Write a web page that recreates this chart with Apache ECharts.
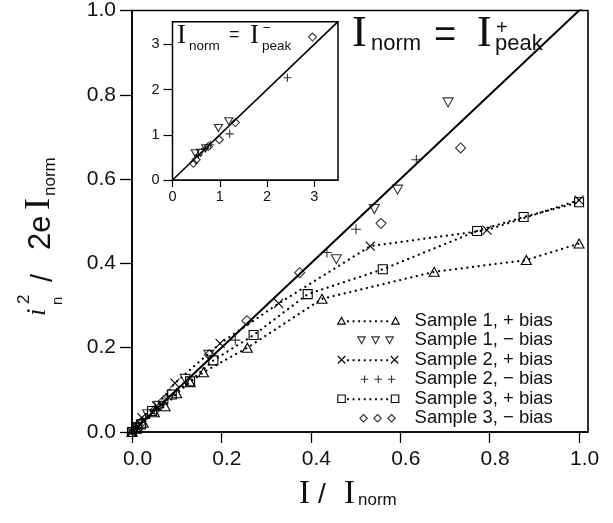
<!DOCTYPE html>
<html><head><meta charset="utf-8">
<script src="https://cdn.jsdelivr.net/npm/echarts@6/dist/echarts.min.js"></script>
<style>html,body{margin:0;padding:0;background:#fff}#c{width:613px;height:523px}</style>
</head><body><div id="c"></div>
<script>
// ---------- data ----------
const xTickValues = [0, 0.2, 0.4, 0.6, 0.8, 1.0];
const yTickValues = [0, 0.2, 0.4, 0.6, 0.8, 1.0];
const insetTickValues = [0, 1, 2, 3];
const legendNames = ['Sample 1, + bias', 'Sample 1, \u2212 bias', 'Sample 2, + bias', 'Sample 2, \u2212 bias', 'Sample 3, + bias', 'Sample 3, \u2212 bias'];
const diagonal = [[0, 0], [1.05, 1.05]];
const s1Plus = [[0,0],[0.01,0.008],[0.025,0.022],[0.05,0.047],[0.074,0.061],[0.1,0.092],[0.13,0.118],[0.16,0.142],[0.258,0.2],[0.425,0.316],[0.676,0.38],[0.882,0.408],[1.0,0.447]];
const s1Minus = [[0.01,0.012],[0.035,0.042],[0.06,0.062],[0.119,0.126],[0.172,0.183],[0.457,0.41],[0.542,0.529],[0.594,0.575],[0.707,0.782]];
const s2Plus = [[0,0],[0.01,0.013],[0.022,0.034],[0.055,0.062],[0.096,0.116],[0.197,0.21],[0.328,0.305],[0.533,0.441],[0.794,0.479],[1.0,0.55]];
const s2Minus = [[0.005,0.006],[0.03,0.032],[0.08,0.086],[0.231,0.218],[0.436,0.426],[0.501,0.481],[0.636,0.646]];
const s3Plus = [[0,0],[0.012,0.01],[0.02,0.018],[0.045,0.05],[0.089,0.089],[0.13,0.12],[0.182,0.17],[0.272,0.23],[0.393,0.327],[0.561,0.386],[0.772,0.477],[0.876,0.51],[1.0,0.545]];
const s3Minus = [[0.003,0.002],[0.018,0.02],[0.052,0.053],[0.07,0.073],[0.173,0.183],[0.257,0.264],[0.375,0.378],[0.557,0.495],[0.735,0.674]];
const insetDiagonal = [[0, 0], [3.5, 3.5]];
const insetDiamond = [[0.44,0.37],[0.5,0.45],[0.76,0.74],[0.99,0.89],[1.33,1.27],[2.96,3.16]];
const insetTriDown = [[0.48,0.59],[0.59,0.6],[0.7,0.7],[0.97,1.15],[1.19,1.3]];
const insetPlus = [[0.55,0.55],[0.69,0.7],[0.8,0.78],[1.21,1.02],[2.43,2.26]];

// ---------- symbols ----------
const TRI_DOWN = 'path://M0,0L10,0L5,9Z';
const PLUS = 'path://M5,0L5,10M0,5L10,5';
const CROSS = 'path://M0,0L10,10M10,0L0,10';
const DIAMOND = 'path://M5,0L10,5L5,10L0,5Z';

function triU(cx,cy,s){const h=s*0.9;return `M${cx-s/2},${cy+h/2}L${cx},${cy-h/2}L${cx+s/2},${cy+h/2}Z`;}
function triD(cx,cy,s){const h=s*0.9;return `M${cx-s/2},${cy-h/2}L${cx+s/2},${cy-h/2}L${cx},${cy+h/2}Z`;}
function sq(cx,cy,s){return `M${cx-s/2},${cy-s/2}L${cx+s/2},${cy-s/2}L${cx+s/2},${cy+s/2}L${cx-s/2},${cy+s/2}Z`;}
function dia(cx,cy,s){return `M${cx},${cy-s/2}L${cx+s/2},${cy}L${cx},${cy+s/2}L${cx-s/2},${cy}Z`;}
function pl(cx,cy,s){return `M${cx-s/2},${cy}L${cx+s/2},${cy}M${cx},${cy-s/2}L${cx},${cy+s/2}`;}
function cr(cx,cy,s){return `M${cx-s/2},${cy-s/2}L${cx+s/2},${cy+s/2}M${cx+s/2},${cy-s/2}L${cx-s/2},${cy+s/2}`;}
function dts(x0,x1,step,cy){let p='';for(let x=x0;x<=x1+0.01;x+=step){p+=`M${x},${cy-0.5}L${x+0.8},${cy-0.5}L${x+0.8},${cy+0.5}L${x},${cy+0.5}Z`;}return p;}
const BOX = 'M0,0L0,0M72,10L72,10';
const LS = 7.5;
const legendIcons = [
  'path://' + BOX + triU(4,5,LS) + dts(10,51,5.6,5.5) + triU(58,5,LS),
  'path://' + BOX + triD(24,5,LS) + triD(38,5,LS) + triD(52,5,LS),
  'path://' + BOX + cr(4,5,LS) + dts(10,51,5.6,5.5) + cr(57,5,LS),
  'path://' + BOX + pl(27,5,LS) + pl(40.7,5,LS) + pl(54,5,LS),
  'path://' + BOX + sq(4,5,LS) + dts(10,51,5.6,5.5) + sq(57.5,5,LS),
  'path://' + BOX + dia(26,5,LS) + dia(40,5,LS) + dia(54,5,LS)
];

const SANS = '"Liberation Sans", Arial, sans-serif';
const SERIF = '"Liberation Serif", "Times New Roman", serif';
const hollow = {color: 'rgba(0,0,0,0)', borderColor: '#000', borderWidth: 1.1};
const dotted = {color: '#000', width: 2.2, type: [0.1, 5.6], cap: 'round'};

function lineSeries(name, data, symbol, size){
  return {name, type: 'line', data, symbol, symbolSize: size, showSymbol: true, itemStyle: hollow, lineStyle: dotted, z: 3, animation: false, emphasis: {disabled: true}};
}
function scatterSeries(name, data, symbol, size, xi){
  return {name, type: 'scatter', data, symbol, symbolSize: size, itemStyle: hollow, xAxisIndex: xi||0, yAxisIndex: xi||0, z: 4, animation: false, emphasis: {disabled: true}};
}

// text helper: place text with given alphabetic baseline
function T(text, x, base, size, family){
  return {type: 'text', silent: true, z: 100, x: x, y: base - 0.345*size,
    style: {text, font: `${size}px ${family}`, fill: '#111', align: 'left', verticalAlign: 'middle'}};
}
function TI(text, x, base, size, family){ // italic
  return {type: 'text', silent: true, z: 100, x: x, y: base - 0.345*size,
    style: {text, font: `italic ${size}px ${family}`, fill: '#111', align: 'left', verticalAlign: 'middle'}};
}

const chart = echarts.init(document.getElementById('c'), null, {renderer: 'canvas'});
const option = {
  backgroundColor: '#fff',
  animation: false,
  grid: [
    {left: 132, top: 9, width: 456, height: 423, show: true, borderColor: '#000', borderWidth: 1.6, backgroundColor: 'rgba(0,0,0,0)'},
    {left: 172.5, top: 21.7, width: 165.5, height: 158.3, show: true, borderColor: '#000', borderWidth: 1.5, backgroundColor: '#fff', z: 1}
  ],
  xAxis: [
    {type: 'value', gridIndex: 0, min: 0, max: 1.02, interval: 0.2,
     axisLine: {show: true, onZero: false, lineStyle: {color: '#000', width: 1.6}},
     axisTick: {show: true, length: 11, lineStyle: {color: '#000', width: 1.3}, customValues: xTickValues},
     axisLabel: {color: '#111', fontSize: 21, fontFamily: SANS, margin: 17, padding: [0,0,0,11], customValues: xTickValues, formatter: v => v.toFixed(1)},
     splitLine: {show: false}},
    {type: 'value', gridIndex: 1, min: 0, max: 3.5, interval: 1,
     axisLine: {show: true, onZero: false, lineStyle: {color: '#000', width: 1.5}},
     axisTick: {show: true, length: 7, lineStyle: {color: '#000', width: 1.2}, customValues: insetTickValues},
     axisLabel: {color: '#111', fontSize: 14.5, fontFamily: SANS, margin: 9, customValues: insetTickValues},
     splitLine: {show: false}}
  ],
  yAxis: [
    {type: 'value', gridIndex: 0, min: 0, max: 1.0, interval: 0.2,
     axisLine: {show: true, onZero: false, lineStyle: {color: '#000', width: 1.6}},
     axisTick: {show: true, length: 12, lineStyle: {color: '#000', width: 1.3}, customValues: yTickValues},
     axisLabel: {color: '#111', fontSize: 21, fontFamily: SANS, margin: 16, customValues: yTickValues, formatter: v => v.toFixed(1)},
     splitLine: {show: false}},
    {type: 'value', gridIndex: 1, min: 0, max: 3.5, interval: 1,
     axisLine: {show: true, onZero: false, lineStyle: {color: '#000', width: 1.5}},
     axisTick: {show: true, length: 9, lineStyle: {color: '#000', width: 1.2}, customValues: insetTickValues},
     axisLabel: {color: '#111', fontSize: 14.5, fontFamily: SANS, margin: 13, customValues: insetTickValues},
     splitLine: {show: false}}
  ],
  legend: {
    orient: 'vertical', left: 332, top: 306, itemWidth: 72, itemHeight: 10, itemGap: 0,
    selectedMode: false,
    itemStyle: {color: 'rgba(0,0,0,0)', borderColor: '#000', borderWidth: 1.1},
    textStyle: {fontFamily: SANS, fontSize: 18.5, color: '#111', lineHeight: 19.5},
    data: legendNames.map((n, i) => ({name: n, icon: legendIcons[i]}))
  },
  series: [
    {name: 'diag', type: 'line', data: diagonal, symbol: 'none', lineStyle: {color: '#000', width: 2}, clip: true, z: 2, silent: true, animation: false},
    lineSeries(legendNames[0], s1Plus, 'triangle', [10, 9]),
    scatterSeries(legendNames[1], s1Minus, TRI_DOWN, [10, 9]),
    lineSeries(legendNames[2], s2Plus, CROSS, 9),
    scatterSeries(legendNames[3], s2Minus, PLUS, 10),
    lineSeries(legendNames[4], s3Plus, 'rect', 9),
    scatterSeries(legendNames[5], s3Minus, DIAMOND, 10),
    {name: 'insetDiag', type: 'line', xAxisIndex: 1, yAxisIndex: 1, data: insetDiagonal, symbol: 'none', lineStyle: {color: '#000', width: 1.6}, clip: true, z: 2, silent: true, animation: false},
    scatterSeries('insetDiamond', insetDiamond, DIAMOND, 8, 1),
    scatterSeries('insetTriDown', insetTriDown, TRI_DOWN, [8, 7], 1),
    scatterSeries('insetPlus', insetPlus, PLUS, 8, 1)
  ],
  graphic: [
    // main title  I_norm = I+_peak
    T('I', 352, 50, 44, SERIF),
    T('norm', 371, 52, 22, SANS),
    T('=', 434, 50, 38, SANS),
    T('I', 477, 50, 44, SERIF),
    T('+', 496, 35, 20, SANS),
    T('peak', 495, 52, 22, SANS),
    // inset title  I_norm = I-_peak
    T('I', 177, 45, 27, SERIF),
    T('norm', 189, 51, 13.5, SANS),
    T('=', 229, 41.5, 18, SANS),
    T('I', 250, 45, 27, SERIF),
    T('\u2212', 263, 33, 13.5, SANS),
    T('peak', 262, 51, 13.5, SANS),
    // x axis name  I / I_norm
    T('I', 299, 505.7, 33, SERIF),
    T('/', 318, 505, 28, SANS),
    T('I', 344, 505.7, 33, SERIF),
    T('norm', 358, 506, 17, SANS),
    // y axis name (rotated, reads bottom to top)
    {type: 'group', x: 52, y: 318, rotation: Math.PI/2, silent: true, z: 100, children: [
      TI('i', 2, -5, 27, SERIF),
      T('2', 14, -22, 17, SANS),
      T('n', 13, 11, 15, SANS),
      T('/', 36, 2, 29, SANS),
      T('2e', 68, 0, 31, SANS),
      T('I', 108, 0, 36, SERIF),
      T('norm', 122, 4, 17, SANS)
    ]}
  ]
};
chart.setOption(option);
</script>
</body></html>
